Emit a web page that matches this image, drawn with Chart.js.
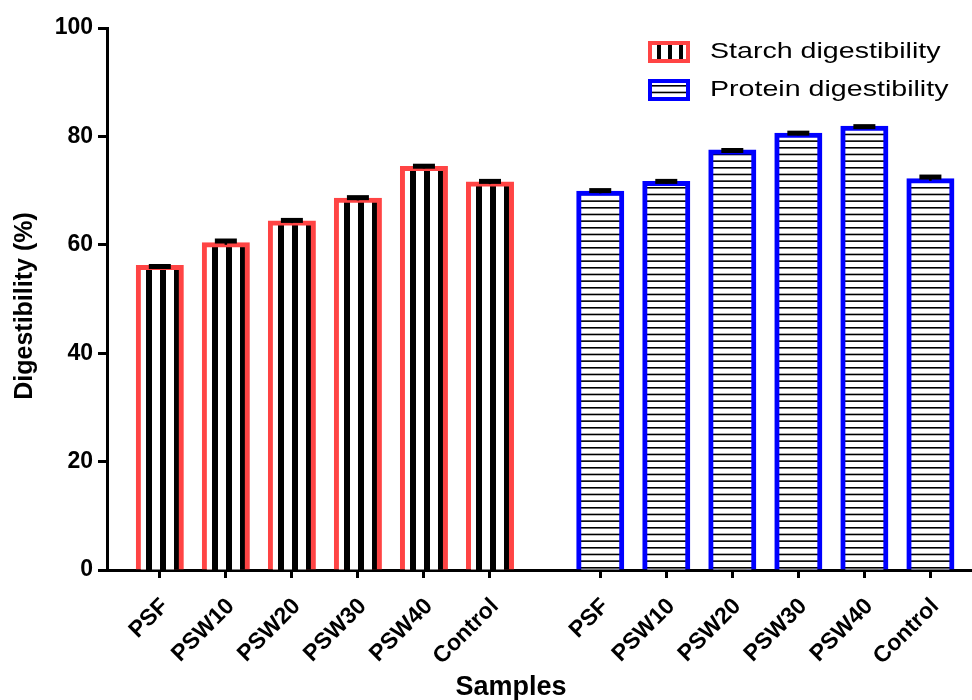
<!DOCTYPE html>
<html>
<head>
<meta charset="utf-8">
<script src="https://cdn.jsdelivr.net/npm/chart.js@4.4.1/dist/chart.umd.min.js"></script>
<style>
  html, body { margin: 0; padding: 0; background: #fff; }
</style>
</head>
<body>
<canvas id="digestChart" width="972" height="700"></canvas>
<script>
// data
const samples = ['PSF', 'PSW10', 'PSW20', 'PSW30', 'PSW40', 'Control'];
const starchValues = [55.8, 60.0, 64.0, 68.2, 74.1, 71.2];
const starchErrors = [0.2, 0.7, 0.5, 0.5, 0.4, 0.5];
const proteinValues = [69.5, 71.3, 77.1, 80.2, 81.5, 71.8];
const proteinErrors = [0.5, 0.4, 0.3, 0.4, 0.3, 0.7];
const yTicks = [0, 20, 40, 60, 80, 100];

const RED = '#ff4444';
const BLUE = '#0000ff';
const FONT = '"Liberation Sans", Arial, Helvetica, sans-serif';

// slot of each bar on the x axis: second group starts after an extra gap
const groupGap = 0.67;
const starchPos = samples.map((s, i) => i);
const proteinPos = samples.map((s, i) => samples.length + groupGap + i);
const tickPos = starchPos.concat(proteinPos);
const tickLabels = samples.concat(samples);

// fill patterns (white ground, black stripes)
function makeVertical(period, stripe) {
  const c = document.createElement('canvas');
  c.width = period; c.height = 1;
  const g = c.getContext('2d');
  g.fillStyle = '#fff';
  g.fillRect(0, 0, period, 1);
  g.fillStyle = '#000';
  g.fillRect(0, 0, stripe, 1);
  return c;
}
function makeHorizontal() {
  const c = document.createElement('canvas');
  c.width = 1; c.height = 20;
  const g = c.getContext('2d');
  g.fillStyle = '#fff';
  g.fillRect(0, 0, 1, 20);
  g.fillStyle = '#000';
  [0, 6.67, 13.33].forEach(y => g.fillRect(0, y, 1, 1.6));
  return c;
}
const vTile = makeVertical(14, 6);
const vTileSmall = makeVertical(11, 4);
const hTile = makeHorizontal();

function pattern(ctx2d, tile, dx, dy) {
  const p = ctx2d.createPattern(tile, 'repeat');
  p.setTransform(new DOMMatrix().translate(dx, dy));
  return p;
}

function starchFill(ctx) {
  const chart = ctx.chart;
  if (ctx.dataIndex === undefined || !chart.scales.x) return pattern(chart.ctx, vTile, 0, 0);
  const cx = chart.scales.x.getPixelForValue(starchPos[ctx.dataIndex]);
  return pattern(chart.ctx, vTile, Math.round(cx), 0);
}
function proteinFill(ctx) {
  const chart = ctx.chart;
  const base = chart.scales.y ? chart.scales.y.getPixelForValue(0) : 0;
  return pattern(chart.ctx, hTile, 0, base - 3);
}

// error bars drawn on top of each bar
const errorBars = {
  id: 'errorBars',
  afterDatasetsDraw(chart) {
    const g = chart.ctx;
    const y = chart.scales.y;
    const errs = [starchErrors, proteinErrors];
    g.save();
    g.strokeStyle = '#000';
    chart.data.datasets.forEach((ds, di) => {
      chart.getDatasetMeta(di).data.forEach((bar, i) => {
        const v = ds.data[i].y;
        const top = y.getPixelForValue(v + errs[di][i]);
        const mid = y.getPixelForValue(v);
        g.lineWidth = 2.5;
        g.beginPath();
        g.moveTo(bar.x, mid);
        g.lineTo(bar.x, top);
        g.stroke();
        g.lineWidth = 5;
        g.beginPath();
        g.moveTo(bar.x - 11, top);
        g.lineTo(bar.x + 11, top);
        g.stroke();
      });
    });
    g.restore();
  }
};

// legend in the upper right + axis titles
const legendAndTitles = {
  id: 'legendAndTitles',
  afterDraw(chart) {
    const g = chart.ctx;
    g.save();
    const items = [
      { text: 'Starch digestibility', border: RED, fill: pattern(g, vTileSmall, 657, 0), y: 41 },
      { text: 'Protein digestibility', border: BLUE, fill: pattern(g, hTile, 0, 85), y: 79 }
    ];
    items.forEach(it => {
      g.fillStyle = it.fill;
      g.fillRect(648, it.y, 42, 22);
      g.lineWidth = 4;
      g.strokeStyle = it.border;
      g.strokeRect(650, it.y + 2, 38, 18);
      // legend text in the figure is drawn wide
      g.save();
      g.translate(710, it.y + 11);
      g.scale(1.3, 1);
      g.fillStyle = '#000';
      g.font = '22px ' + FONT;
      g.textAlign = 'left';
      g.textBaseline = 'middle';
      g.fillText(it.text, 0, 0);
      g.restore();
    });
    g.fillStyle = '#000';
    g.font = 'bold 27px ' + FONT;
    g.textAlign = 'center';
    g.textBaseline = 'middle';
    g.fillText('Samples', 511, 688);

    g.save();
    g.translate(25, 306);
    g.rotate(-Math.PI / 2);
    g.font = 'bold 25px ' + FONT;
    g.fillText('Digestibility (%)', 0, 0);
    g.restore();
    g.restore();
  }
};

const ctx = document.getElementById('digestChart').getContext('2d');
const digestChart = new Chart(ctx, {
  type: 'bar',
  data: {
    datasets: [{
      label: 'Starch digestibility',
      data: starchValues.map((v, i) => ({ x: starchPos[i], y: v })),
      backgroundColor: starchFill,
      borderColor: RED,
      borderWidth: 5,
      inflateAmount: 2.5
    }, {
      label: 'Protein digestibility',
      data: proteinValues.map((v, i) => ({ x: proteinPos[i], y: v })),
      backgroundColor: proteinFill,
      borderColor: BLUE,
      borderWidth: 5,
      inflateAmount: 2.5
    }]
  },
  options: {
    responsive: false,
    animation: false,
    devicePixelRatio: 1,
    layout: { padding: { top: 28, right: 0, bottom: 0, left: 0 } },
    datasets: { bar: { grouped: false, barThickness: 43 } },
    plugins: {
      legend: { display: false },
      tooltip: { enabled: false }
    },
    scales: {
      x: {
        type: 'linear',
        z: 1,
        offset: false,
        min: -0.8,
        max: 12.3,
        afterBuildTicks: scale => { scale.ticks = tickPos.map(v => ({ value: v })); },
        afterFit: scale => { scale.height = 130; scale.paddingLeft = 0; scale.paddingRight = 0; },
        grid: { offset: false, drawOnChartArea: false, tickLength: 8, tickWidth: 3, tickColor: '#000' },
        border: { color: '#000', width: 3 },
        ticks: {
          autoSkip: false,
          minRotation: 45,
          maxRotation: 45,
          padding: 15,
          labelOffset: 5,
          color: '#000',
          font: { family: FONT, size: 23, weight: 'bold' },
          callback: (value, index) => tickLabels[index]
        }
      },
      y: {
        min: 0,
        max: 100,
        afterBuildTicks: scale => { scale.ticks = yTicks.map(v => ({ value: v })); },
        afterFit: scale => { scale.width = 107; scale.paddingTop = 0; scale.paddingBottom = 0; },
        grid: { drawOnChartArea: false, tickLength: 9, tickWidth: 3, tickColor: '#000' },
        border: { color: '#000', width: 3 },
        ticks: {
          padding: 5,
          color: '#000',
          font: { family: FONT, size: 23, weight: 'bold' }
        }
      }
    }
  },
  plugins: [errorBars, legendAndTitles]
});
</script>
</body>
</html>
